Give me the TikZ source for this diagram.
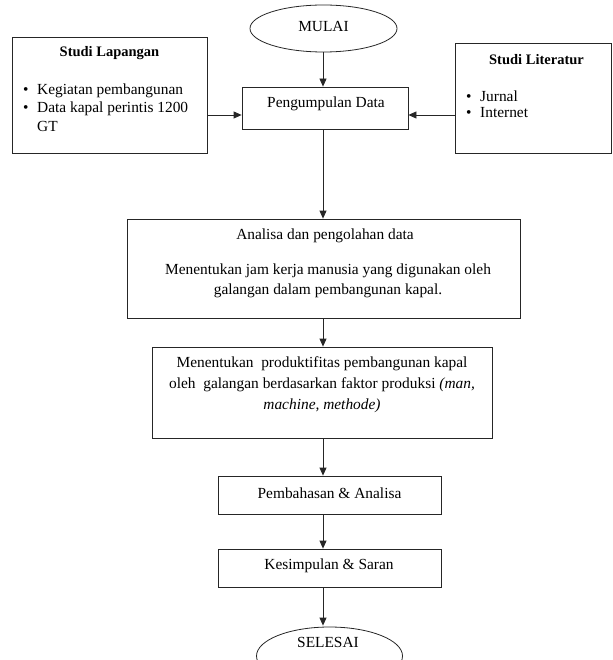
\documentclass[tikz,border=0pt]{standalone}
\usepackage{fontspec}
\setmainfont{Liberation Serif}
\usetikzlibrary{arrows.meta,shapes.geometric}
\begin{document}
\begin{tikzpicture}[x=1pt,y=-1pt,
  box/.style={draw=black!85, line width=0.8pt, rectangle, inner sep=0pt, font=\fontsize{15.4}{20}\selectfont},
  oval/.style={draw=black!85, line width=0.8pt, ellipse, inner sep=0pt},
  txt/.style={font=\fontsize{15.4}{20}\selectfont, inner sep=0pt, align=center},
  ttl/.style={font=\fontsize{14.5}{18}\selectfont\bfseries, inner sep=0pt},
  ltxt/.style={font=\fontsize{15.4}{18}\selectfont, inner sep=0pt, anchor=base west},
  arr/.style={-{Triangle[length=8pt,width=7pt]}, line width=0.8pt, draw=black!85}]
\useasboundingbox (0,0) rectangle (612,660);

% axis coordinates
\coordinate (axis) at (323,0);
\coordinate (hy) at (0,115);

% start
\node[oval, minimum width=147pt, minimum height=47pt] (mulai) at (323.5,28.5) {};
\node[txt] (mulaitxt) at (323.5,26) {MULAI};

% Studi Lapangan
\node[box, minimum width=195pt, minimum height=116pt] (lap) at (109.5,95) {};
\node[ttl] (laptitle) at (109.5,53) {Studi Lapangan};
\node[ltxt] (lapb1) at (23,95) {\textbullet};
\node[ltxt] (lapt1) at (37,95) {Kegiatan pembangunan};
\node[ltxt] (lapb2) at (23,113) {\textbullet};
\node[ltxt] (lapt2) at (37,113) {Data kapal perintis 1200};
\node[ltxt] (lapt3) at (37,131.5) {GT};

% Studi Literatur
\node[box, minimum width=156pt, minimum height=110pt] (lit) at (533,98) {};
\node[ttl] (littitle) at (536.5,60) {Studi Literatur};
\node[ltxt] (litb1) at (466,101.5) {\textbullet};
\node[ltxt] (litt1) at (480,101.5) {Jurnal};
\node[ltxt] (litb2) at (466,118) {\textbullet};
\node[ltxt] (litt2) at (480,118) {Internet};

% Pengumpulan Data
\node[box, minimum width=166pt, minimum height=42pt] (pen) at (325,108) {};
\node[txt] (pentxt) at (326,104) {Pengumpulan Data};

% Analisa
\node[box, minimum width=393pt, minimum height=99pt] (ana) at (323.5,268.5) {};
\node[txt] (anatitle) at (325,236) {Analisa dan pengolahan data};
\node[txt] (anatxt) at (328,280.5) {Menentukan jam kerja manusia yang digunakan oleh\\galangan dalam pembangunan kapal.};

% Produktifitas
\node[box, minimum width=340pt, minimum height=91pt] (prod) at (322,392.5) {};
\node[txt, font=\fontsize{15.4}{21}\selectfont] (prodtxt) at (322,384.5) {Menentukan\ \ produktifitas pembangunan kapal\\oleh\ \ galangan berdasarkan faktor produksi \textit{(man,}\\\textit{machine, methode)}};

% Pembahasan and Kesimpulan
\node[box, minimum width=223pt, minimum height=38pt] (pem) at (329.5,495) {};
\node[txt] (pemtxt) at (329.5,493) {Pembahasan \& Analisa};
\node[box, minimum width=223pt, minimum height=38pt] (kes) at (329.5,568) {};
\node[txt] (kestxt) at (329,566) {Kesimpulan \& Saran};

% Selesai
\node[oval, minimum width=146pt, minimum height=58pt] (sel) at (329.5,656) {};
\node[txt] (seltxt) at (328,642) {SELESAI};

% connectors
\draw[arr] (mulai.south -| axis) -- (pen.north -| axis);
\draw[arr] (lap.east |- hy) -- (pen.west |- hy);
\draw[arr] (lit.west |- hy) -- (pen.east |- hy);
\draw[arr] (pen.south -| axis) -- (ana.north -| axis);
\draw[arr] (ana.south -| axis) -- (prod.north -| axis);
\draw[arr] (prod.south -| axis) -- (pem.north -| axis);
\draw[arr] (pem.south -| axis) -- (kes.north -| axis);
\draw[arr] (kes.south -| axis) -- ([yshift=1pt]sel.north -| axis);
\end{tikzpicture}
\end{document}
